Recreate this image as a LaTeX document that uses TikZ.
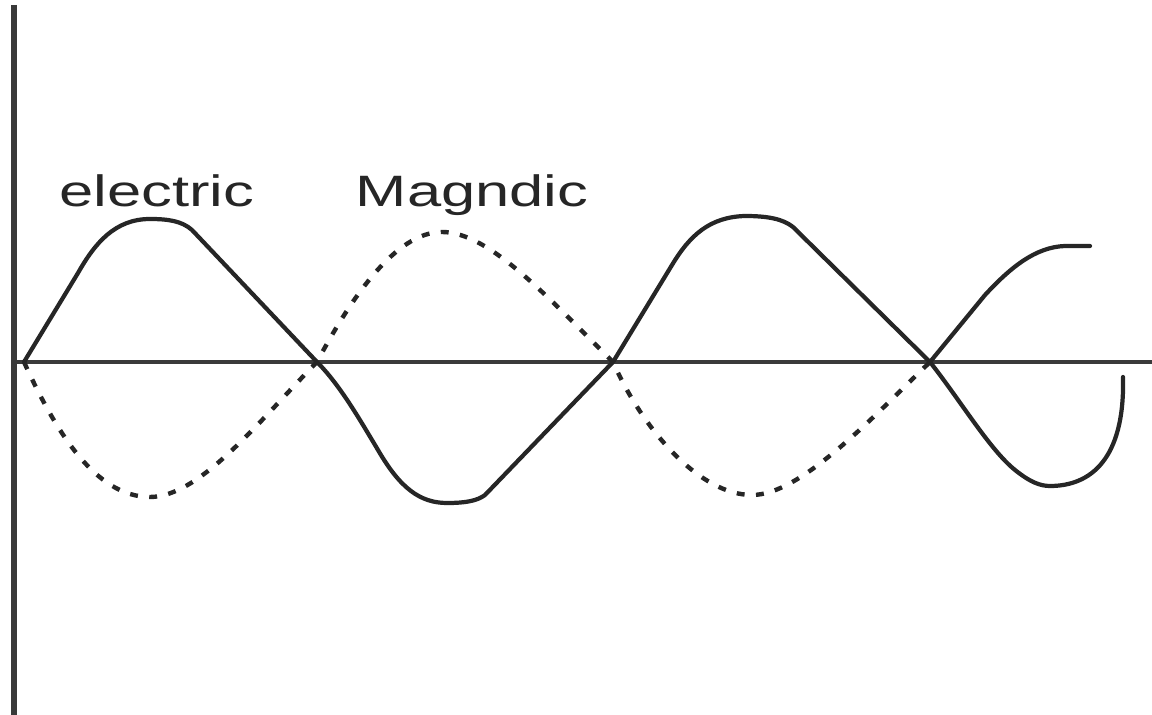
\documentclass[tikz,border=0pt]{standalone}
\usepackage{fontspec}
\newfontfamily\labelfont{Liberation Sans}
\definecolor{ink}{HTML}{262626}
\definecolor{axisgray}{HTML}{3A3A3A}

\begin{document}
\begin{tikzpicture}[x=0.02cm, y=-0.02cm,
  every node/.style={font=\labelfont\fontsize{25}{30}\selectfont, text=ink, xscale=1.4, inner sep=0pt},
  axis/.style={axisgray, line width=1.9pt},
  efield/.style={ink, line width=2.4pt, line join=round, line cap=round},
  bfield/.style={ink, line width=2.5pt, dash pattern=on 4.5pt off 6.5pt}]
\useasboundingbox (0,0) rectangle (1152,715);

% Axes
\coordinate (top) at (14,5);
\coordinate (bot) at (14,715);
\coordinate (left) at (14,362);
\coordinate (right) at (1152,362);
\draw[axis, line width=3.2pt] (top) -- (bot);
\draw[axis] (left) -- (right);

% Zero crossings
\coordinate (z0) at (24,362);
\coordinate (z1) at (317,362);
\coordinate (z2) at (613,362);
\coordinate (z3) at (930,362);

% Labels
\node[anchor=base] (electric) at (157,207) {electric};
\node[anchor=base] (magndic) at (472,207) {Magndic};

% Electric wave (solid)
\draw[efield] (z0) -- (78,273) .. controls (95,243) and (115,219) .. (150,219)
  .. controls (168,219) and (182,221) .. (192,230) -- (z1)
  .. controls (340,385) and (360,420) .. (378,450)
  .. controls (400,488) and (420,503) .. (447,503)
  .. controls (465,503) and (477,501) .. (485,495) -- (z2)
  -- (672,265) .. controls (690,235) and (710,217) .. (745,216)
  .. controls (768,216) and (783,219) .. (793,227) -- (z3);
\draw[efield] (z3) -- (985,295) .. controls (1010,268) and (1035,247) .. (1065,246) -- (1090,246);
\draw[efield] (z3) .. controls (960,400) and (990,450) .. (1015,470)
  .. controls (1030,482) and (1040,486) .. (1050,486)
  .. controls (1090,486) and (1125,460) .. (1123,377);

% Magnetic wave (dashed)
\draw[bfield] (z0) .. controls (55,430) and (95,497) .. (150,497)
  .. controls (200,497) and (260,420) .. (z1)
  .. controls (350,300) and (395,232) .. (442,232)
  .. controls (490,232) and (550,300) .. (z2)
  .. controls (643,430) and (700,495) .. (752,495)
  .. controls (800,495) and (870,420) .. (z3);
\end{tikzpicture}
\end{document}
